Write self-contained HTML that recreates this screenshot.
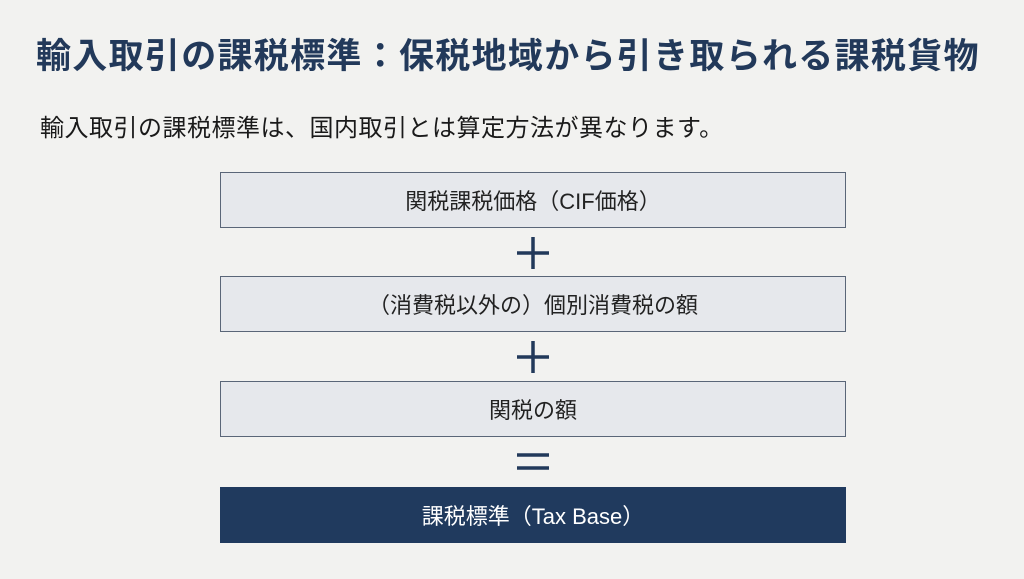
<!DOCTYPE html>
<html><head><meta charset="utf-8"><style>
body{margin:0;width:1024px;height:579px;background:#f2f2f0;font-family:"Liberation Sans","Noto Sans CJK JP",sans-serif;position:relative;overflow:hidden}
.t{position:absolute;left:36px;top:28px;font-size:35px;font-weight:bold;color:#22395a;white-space:nowrap;letter-spacing:1.3px}
.s{position:absolute;left:40px;top:108px;font-size:24px;color:#1a1a1a;white-space:nowrap;letter-spacing:0.5px}
.b{position:absolute;left:220px;width:624px;height:54px;border:1px solid #5a6678;background:#e6e8ec;display:flex;align-items:center;justify-content:center;font-size:22px;color:#222}
.d{background:#203a5e;color:#fff;border-color:#203a5e}
</style></head><body>
<div class="t">輸入取引の課税標準：保税地域から引き取られる課税貨物</div>
<div class="s">輸入取引の課税標準は、国内取引とは算定方法が異なります。</div>
<div class="b" style="top:172px">関税課税価格（CIF価格）</div>
<div class="b" style="top:276px">（消費税以外の）個別消費税の額</div>
<div class="b" style="top:381px">関税の額</div>
<div class="b d" style="top:487px">課税標準（Tax Base）</div>
<svg style="position:absolute;left:0;top:0" width="1024" height="579">
<g stroke="#22395a" stroke-width="3.5">
<line x1="517" y1="253" x2="549" y2="253"/><line x1="533" y1="237" x2="533" y2="269"/>
<line x1="517" y1="357" x2="549" y2="357"/><line x1="533" y1="341" x2="533" y2="373"/>
<line x1="517" y1="455" x2="549" y2="455"/><line x1="517" y1="468" x2="549" y2="468"/>
</g></svg>
</body></html>
